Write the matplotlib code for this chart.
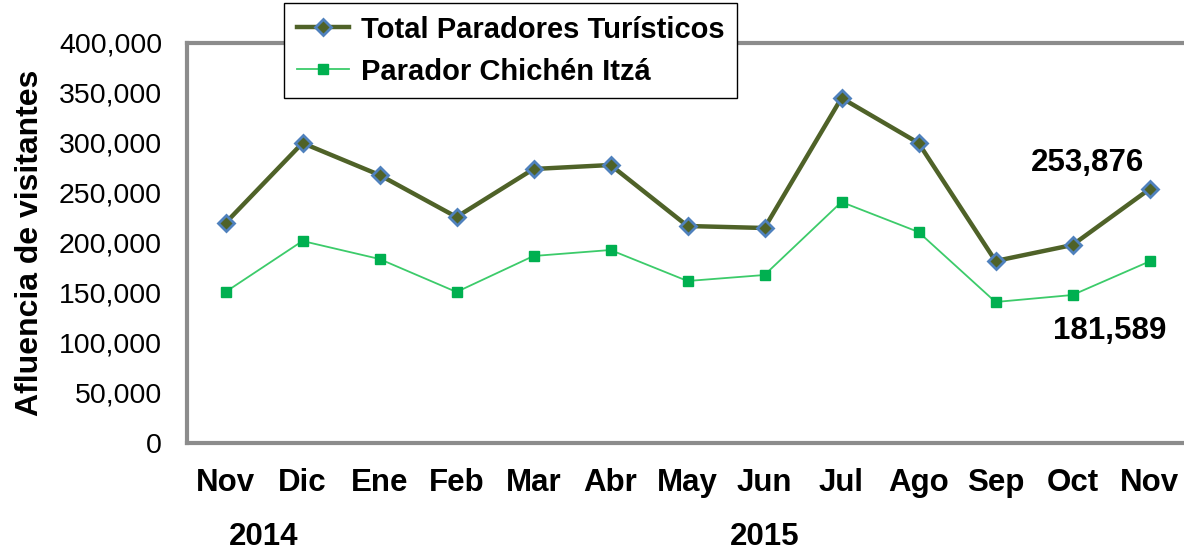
import matplotlib
matplotlib.use('Agg')
import matplotlib.pyplot as plt
from matplotlib.ticker import FuncFormatter
import matplotlib.transforms as mtransforms

plt.rcParams['font.family'] = ['Liberation Sans', 'DejaVu Sans']

months = ['Nov', 'Dic', 'Ene', 'Feb', 'Mar', 'Abr', 'May', 'Jun',
          'Jul', 'Ago', 'Sep', 'Oct', 'Nov']
total_paradores = [220000, 300000, 268000, 226000, 274000, 278000, 217000,
                   215000, 345000, 300000, 182000, 198000, 253876]
chichen_itza = [151000, 202000, 184000, 151000, 187000, 193000, 162000,
                168000, 241000, 211000, 141000, 148000, 181589]
years = ['2014', '2015']
year_centers = [0.5, 7.0]

W, H = 1184, 550
fig = plt.figure(figsize=(W / 100, H / 100), dpi=100)
ax = fig.add_axes([187 / W, (H - 443) / H, (1188 - 187) / W, 400 / H])

x = list(range(len(months)))
ax.plot(x, chichen_itza, color='#3ccb6a', lw=1.3, marker='s', ms=7,
        mfc='#00b050', mec='#00b050', label='Parador Chichén Itzá', zorder=3)
ax.plot(x, total_paradores, color='#4f6228', lw=3.2, marker='D', ms=8,
        mfc='#4f6228', mec='#4f81bd', mew=2, label='Total Paradores Turísticos', zorder=4)

ax.set_xlim(-0.5, len(months) - 0.5)
ax.set_ylim(0, 400000)
ax.set_yticks(range(0, 400001, 50000))
ax.yaxis.set_major_formatter(FuncFormatter(lambda v, p: f'{int(v):,}'))
ax.set_xticks(x)
ax.set_xticklabels(months, fontsize=22.5, fontweight='bold')
ax.tick_params(axis='y', length=0, pad=18, labelsize=20.5)
ax.tick_params(axis='x', length=0, pad=18)

for side in ['left', 'top', 'bottom']:
    ax.spines[side].set_color('#8c8c8c')
    ax.spines[side].set_linewidth(3)
ax.spines['right'].set_visible(False)

ax.set_ylabel('Afluencia de visitantes', fontsize=23, fontweight='bold', labelpad=10)

# year labels under the months
trans = mtransforms.blended_transform_factory(ax.transData, ax.transAxes)
for yr, xc in zip(years, year_centers):
    ax.text(xc, -0.235, yr, transform=trans, ha='center', va='center',
            fontsize=22.5, fontweight='bold')

# last value labels
ax.annotate(f'{total_paradores[-1]:,}', (x[-1], total_paradores[-1]),
            xytext=(-45, 19), textcoords='offset points', ha='center', va='center',
            fontsize=22.5, fontweight='bold')
ax.annotate(f'{chichen_itza[-1]:,}', (x[-1], chichen_itza[-1]),
            xytext=(-29, -50), textcoords='offset points', ha='center', va='center',
            fontsize=22.5, fontweight='bold')

handles, labels = ax.get_legend_handles_labels()
leg = ax.legend(handles[::-1], labels[::-1], loc='upper left',
                bbox_to_anchor=(284 / W, 1 - 3 / H), bbox_transform=fig.transFigure,
                prop={'size': 21, 'weight': 'bold'}, fancybox=False, framealpha=1,
                edgecolor='black', handlelength=1.8, handletextpad=0.4,
                borderpad=0.43, labelspacing=0.48, borderaxespad=0)
leg.get_frame().set_linewidth(1)
leg.set_zorder(10)

fig.savefig('out.png', dpi=100)
